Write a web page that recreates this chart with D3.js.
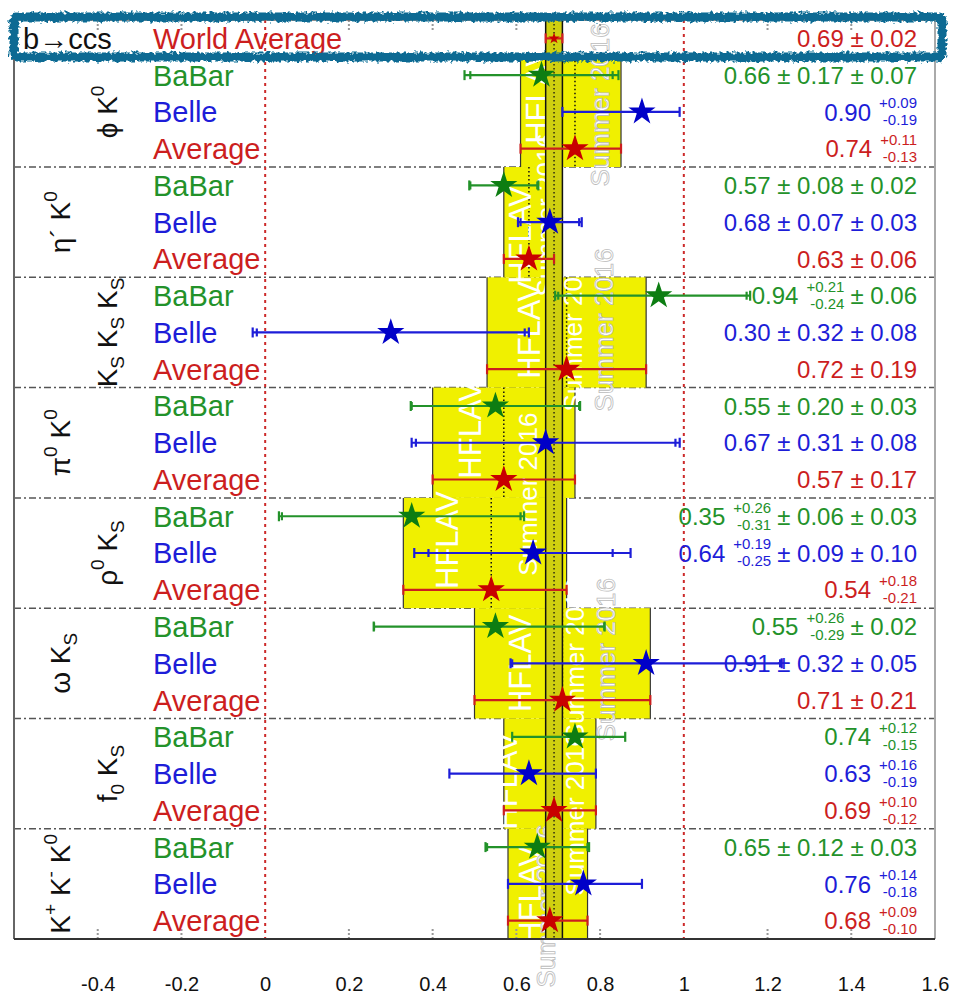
<!DOCTYPE html>
<html>
<head>
<meta charset="utf-8">
<script src="https://cdn.jsdelivr.net/npm/d3@7"></script>
<style>
  body { margin: 0; background: #fff; }
  svg { display: block; font-family: "Liberation Sans", Arial, Helvetica, sans-serif; }
</style>
</head>
<body>
<div id="chart"></div>
<script>
// decay modes, top to bottom (^{} = superscript, _{} = subscript)
const categories = ["ϕ K^{0}", "η´ K^{0}", "K_{S} K_{S} K_{S}", "π^{0} K^{0}",
                    "ρ^{0} K_{S}", "ω K_{S}", "f_{0} K_{S}", "K^{+} K^{-} K^{0}"];
const experiments = ["BaBar", "Belle", "Average"];

// BaBar: value, stat +/-, extra systematics
const babarVal   = [0.66, 0.57, 0.94, 0.55, 0.35, 0.55, 0.74, 0.65];
const babarStatP = [0.17, 0.08, 0.21, 0.20, 0.26, 0.26, 0.12, 0.12];
const babarStatM = [0.17, 0.08, 0.24, 0.20, 0.31, 0.29, 0.15, 0.12];
const babarSyst  = [[0.07], [0.02], [0.06], [0.03], [0.06, 0.03], [0.02], [], [0.03]];

// Belle
const belleVal   = [0.90, 0.68, 0.30, 0.67, 0.64, 0.91, 0.63, 0.76];
const belleStatP = [0.09, 0.07, 0.32, 0.31, 0.19, 0.32, 0.16, 0.14];
const belleStatM = [0.19, 0.07, 0.32, 0.31, 0.25, 0.32, 0.19, 0.18];
const belleSyst  = [[], [0.03], [0.08], [0.08], [0.09, 0.10], [0.05], [], []];

// HFLAV averages
const avgVal  = [0.74, 0.63, 0.72, 0.57, 0.54, 0.71, 0.69, 0.68];
const avgErrP = [0.11, 0.06, 0.19, 0.17, 0.18, 0.21, 0.10, 0.09];
const avgErrM = [0.13, 0.06, 0.19, 0.17, 0.21, 0.21, 0.12, 0.10];

// b -> ccs world average
const worldVal = 0.69, worldErr = 0.02;

const xTicks = [-0.4, -0.2, 0, 0.2, 0.4, 0.6, 0.8, 1, 1.2, 1.4, 1.6];

const width = 954, height = 997;
const nRows = 1 + 3 * categories.length;

const x = d3.scaleLinear().domain([-0.6, 1.6]).range([14, 935]);
const y = d3.scaleLinear().domain([0, nRows]).range([20, 939]); // in row units
const yc = r => y(r + 0.5);

const textCol = { BaBar: "#23922a", Belle: "#1d1dd8", Average: "#cc1e1e" };
const markCol = { BaBar: "#0d7d12", Belle: "#0000c8", Average: "#c80000" };

// flatten into rows
let rows = [];
categories.forEach((c, i) => {
  rows.push({ cat: i, exp: "BaBar", row: 1 + 3 * i, val: babarVal[i], sp: babarStatP[i], sm: babarStatM[i], syst: babarSyst[i] });
  rows.push({ cat: i, exp: "Belle", row: 2 + 3 * i, val: belleVal[i], sp: belleStatP[i], sm: belleStatM[i], syst: belleSyst[i] });
  rows.push({ cat: i, exp: "Average", row: 3 + 3 * i, val: avgVal[i], sp: avgErrP[i], sm: avgErrM[i], syst: [] });
});
for (let d of rows) {
  const s2 = d3.sum(d.syst, s => s * s);
  d.tp = Math.sqrt(d.sp * d.sp + s2); // total errors
  d.tm = Math.sqrt(d.sm * d.sm + s2);
}

const svg = d3.select("#chart").append("svg")
  .attr("width", width)
  .attr("height", height)
  .attr("viewBox", [0, 0, width, height]);

const defs = svg.append("defs");
const rough = defs.append("filter").attr("id", "rough")
  .attr("x", "-5%").attr("y", "-50%").attr("width", "110%").attr("height", "200%");
rough.append("feTurbulence").attr("type", "fractalNoise").attr("baseFrequency", 0.3)
  .attr("numOctaves", 2).attr("result", "n");
rough.append("feDisplacementMap").attr("in", "SourceGraphic").attr("in2", "n")
  .attr("scale", 7).attr("xChannelSelector", "R").attr("yChannelSelector", "G");

// section separators (dash-dot)
svg.append("g")
  .selectAll("line")
  .data(d3.range(1, categories.length))
  .join("line")
  .attr("x1", x(-0.6)).attr("x2", x(1.6))
  .attr("y1", i => y(1 + 3 * i)).attr("y2", i => y(1 + 3 * i))
  .attr("stroke", "#555").attr("stroke-width", 1.5)
  .attr("stroke-dasharray", "7,3,2,3");

// yellow average boxes
const boxes = svg.append("g");
boxes.selectAll("rect")
  .data(categories.map((c, i) => i))
  .join("rect")
  .attr("x", i => x(avgVal[i] - avgErrM[i]))
  .attr("width", i => x(avgVal[i] + avgErrP[i]) - x(avgVal[i] - avgErrM[i]))
  .attr("y", i => y(1 + 3 * i))
  .attr("height", y(3) - y(0))
  .attr("fill", "#f0f000");
boxes.selectAll("line.edge")
  .data(categories.flatMap((c, i) => [[i, avgVal[i] - avgErrM[i]], [i, avgVal[i] + avgErrP[i]]]))
  .join("line")
  .attr("class", "edge")
  .attr("x1", d => x(d[1])).attr("x2", d => x(d[1]))
  .attr("y1", d => y(1 + 3 * d[0])).attr("y2", d => y(4 + 3 * d[0]))
  .attr("stroke", "#333").attr("stroke-width", 1.2);
boxes.selectAll("line.mid")
  .data(categories.map((c, i) => i))
  .join("line")
  .attr("class", "mid")
  .attr("x1", i => x(avgVal[i])).attr("x2", i => x(avgVal[i]))
  .attr("y1", i => y(1 + 3 * i)).attr("y2", i => y(4 + 3 * i))
  .attr("stroke", "#111").attr("stroke-width", 1.5)
  .attr("stroke-dasharray", "1.5,2.5");

// watermark (value, row, text, outlined)
const marks = [
  [0.65, 2.04, "HFLAV", false], [0.80, 2.31, "Summer 2016", true],
  [0.61, 5.85, "HFLAV", false], [0.67, 5.3, "Summer 2016", false],
  [0.63, 8.43, "HFLAV", false], [0.735, 8.43, "Summer 2016", false], [0.81, 8.43, "Summer 2016", true],
  [0.49, 11.15, "HFLAV", false], [0.435, 14.15, "HFLAV", false], [0.627, 12.9, "Summer 2016", false],
  [0.61, 17.5, "HFLAV", false], [0.74, 17.4, "Summer 2016", false], [0.813, 17.4, "Summer 2016", true],
  [0.575, 20.7, "HFLAV", false], [0.74, 21.6, "Summer 2016", false],
  [0.634, 23.8, "HFLAV", false], [0.67, 24.1, "Summer 2016", true]
];
svg.append("g")
  .selectAll("text")
  .data(marks)
  .join("text")
  .attr("transform", d => `translate(${x(d[0])},${y(d[1])}) rotate(-90)`)
  .attr("text-anchor", "middle")
  .attr("dy", "0.35em")
  .attr("font-size", d => d[2] === "HFLAV" ? 31 : 26)
  .attr("fill", "#fff")
  .attr("stroke", d => d[3] ? "#bbb" : "none")
  .attr("stroke-width", 0.8)
  .text(d => d[2]);

// world average band
const band = svg.append("g");
band.append("rect")
  .attr("x", x(worldVal - worldErr))
  .attr("width", x(worldVal + worldErr) - x(worldVal - worldErr))
  .attr("y", y(0)).attr("height", y(nRows) - y(0))
  .attr("fill", "#d0d010");
band.selectAll("line")
  .data([worldVal - worldErr, worldVal + worldErr])
  .join("line")
  .attr("x1", d => x(d)).attr("x2", d => x(d))
  .attr("y1", y(0)).attr("y2", y(nRows))
  .attr("stroke", "#111").attr("stroke-width", 1.5);
band.append("line")
  .attr("x1", x(worldVal)).attr("x2", x(worldVal))
  .attr("y1", y(0)).attr("y2", y(nRows))
  .attr("stroke", "#111").attr("stroke-width", 1.3)
  .attr("stroke-dasharray", "1.5,2.5");

// red dotted lines at 0 and 1
svg.append("g")
  .selectAll("line")
  .data([0, 1])
  .join("line")
  .attr("x1", d => x(d)).attr("x2", d => x(d))
  .attr("y1", y(0)).attr("y2", y(nRows))
  .attr("stroke", "#cc2a2a").attr("stroke-width", 2)
  .attr("stroke-dasharray", "3,4");

// dotted tick marks top and bottom
const tk = svg.append("g").attr("stroke", "#999").attr("stroke-width", 2).attr("stroke-dasharray", "2,2");
for (let t of xTicks.filter(t => t !== 0 && t !== 1 && t < 1.6)) {
  tk.append("line").attr("x1", x(t)).attr("x2", x(t)).attr("y1", y(0)).attr("y2", y(0) + 12);
  tk.append("line").attr("x1", x(t)).attr("x2", x(t)).attr("y1", y(nRows)).attr("y2", y(nRows) - 12);
}

// frame
svg.append("line").attr("x1", x(-0.6)).attr("x2", x(-0.6)).attr("y1", y(0)).attr("y2", y(nRows))
  .attr("stroke", "#666").attr("stroke-width", 2);
svg.append("line").attr("x1", x(1.6)).attr("x2", x(1.6)).attr("y1", y(0)).attr("y2", y(nRows))
  .attr("stroke", "#aaa").attr("stroke-width", 2);
svg.append("line").attr("x1", x(-0.6)).attr("x2", x(1.6)).attr("y1", y(nRows)).attr("y2", y(nRows))
  .attr("stroke", "#333").attr("stroke-width", 2);
svg.append("line").attr("x1", x(-0.6)).attr("x2", x(1.6)).attr("y1", y(0)).attr("y2", y(0))
  .attr("stroke", "#666").attr("stroke-width", 1.5);

// error bars
const eb = svg.append("g");
const bar = eb.selectAll("g")
  .data(rows)
  .join("g")
  .attr("stroke", d => textCol[d.exp])
  .attr("stroke-width", 2.2);
bar.append("line")
  .attr("x1", d => x(d.val - d.tm)).attr("x2", d => x(d.val + d.tp))
  .attr("y1", d => yc(d.row)).attr("y2", d => yc(d.row));
bar.selectAll("line.cap")
  .data(d => [d.val - d.tm, d.val + d.tp].map(v => ({ v, r: d.row })))
  .join("line")
  .attr("class", "cap")
  .attr("x1", c => x(c.v)).attr("x2", c => x(c.v))
  .attr("y1", c => yc(c.r) - 5).attr("y2", c => yc(c.r) + 5);
bar.selectAll("line.stat")
  .data(d => d.syst.length ? [d.val - d.sm, d.val + d.sp].map(v => ({ v, r: d.row })) : [])
  .join("line")
  .attr("class", "stat")
  .attr("x1", c => x(c.v)).attr("x2", c => x(c.v))
  .attr("y1", c => yc(c.r) - 4).attr("y2", c => yc(c.r) + 4);

// star markers
const star = d3.symbol(d3.symbolStar, 230);
eb.selectAll("path")
  .data(rows)
  .join("path")
  .attr("d", star)
  .attr("transform", d => `translate(${x(d.val)},${yc(d.row)})`)
  .attr("fill", d => markCol[d.exp]);

// world average point
const wa = svg.append("g").attr("stroke", "#d42020").attr("stroke-width", 2.2);
wa.append("line").attr("x1", x(worldVal - worldErr)).attr("x2", x(worldVal + worldErr))
  .attr("y1", yc(0)).attr("y2", yc(0));
wa.selectAll("line.cap").data([worldVal - worldErr, worldVal + worldErr]).join("line")
  .attr("class", "cap")
  .attr("x1", d => x(d)).attr("x2", d => x(d))
  .attr("y1", yc(0) - 5).attr("y2", yc(0) + 5);
svg.append("path").attr("d", d3.symbol(d3.symbolStar, 40))
  .attr("transform", `translate(${x(worldVal)},${yc(0)})`).attr("fill", "#c80000");

// left labels
const labelX = 153, valueX = 917, labelSize = 29;
svg.append("text").attr("x", 23).attr("y", yc(0)).attr("dy", "0.36em")
  .attr("font-size", labelSize).attr("fill", "#111").text("b→ccs");
svg.append("text").attr("x", labelX).attr("y", yc(0)).attr("dy", "0.36em")
  .attr("font-size", labelSize).attr("fill", textCol.Average).text("World Average");
svg.append("g")
  .selectAll("text")
  .data(rows)
  .join("text")
  .attr("x", labelX).attr("y", d => yc(d.row)).attr("dy", "0.36em")
  .attr("font-size", labelSize)
  .attr("fill", d => textCol[d.exp])
  .text(d => d.exp);

// rotated category names with sub/superscripts
function richText(sel, str, size) {
  const parts = str.split(/(\^\{[^}]*\}|_\{[^}]*\})/).filter(s => s.length);
  let shift = 0;
  for (let p of parts) {
    let s = 0, txt = p, fs = size;
    if (p.startsWith("^{")) { s = -0.45 * size; txt = p.slice(2, -1); fs = size * 0.68; }
    else if (p.startsWith("_{")) { s = 0.25 * size; txt = p.slice(2, -1); fs = size * 0.68; }
    sel.append("tspan").attr("dy", s - shift).attr("font-size", fs).text(txt);
    shift = s;
  }
}
categories.forEach((c, i) => {
  const t = svg.append("text")
    .attr("transform", `translate(${i % 2 === 0 ? 117 : 70},${y(2.5 + 3 * i)}) rotate(-90)`)
    .attr("text-anchor", "middle")
    .attr("font-size", 28)
    .attr("fill", "#111");
  richText(t, c, 28);
});

// right hand value labels
const f2 = v => v.toFixed(2);
function valueLabel(d, r, color) {
  const g = svg.append("g").attr("fill", color);
  const yy = yc(r);
  if (d.sp === d.sm) {
    const s = f2(d.val) + " ± " + f2(d.sp) + d.syst.map(v => " ± " + f2(v)).join("");
    g.append("text").attr("x", valueX).attr("y", yy).attr("dy", "0.36em")
      .attr("text-anchor", "end").attr("font-size", 24).text(s);
    return;
  }
  let xr = valueX;
  if (d.syst.length) {
    const tail = g.append("text").attr("x", xr).attr("y", yy).attr("dy", "0.36em")
      .attr("text-anchor", "end").attr("font-size", 24)
      .text(d.syst.map(v => " ± " + f2(v)).join("").trim());
    xr -= tail.node().getComputedTextLength() + 6;
  }
  const up = g.append("text").attr("x", xr).attr("y", yy - 9).attr("dy", "0.36em")
    .attr("text-anchor", "end").attr("font-size", 15).text("+" + f2(d.sp));
  const dn = g.append("text").attr("x", xr).attr("y", yy + 8).attr("dy", "0.36em")
    .attr("text-anchor", "end").attr("font-size", 15).text("-" + f2(d.sm));
  xr -= Math.max(up.node().getComputedTextLength(), dn.node().getComputedTextLength()) + 8;
  g.append("text").attr("x", xr).attr("y", yy).attr("dy", "0.36em")
    .attr("text-anchor", "end").attr("font-size", 24).text(f2(d.val));
}
valueLabel({ val: worldVal, sp: worldErr, sm: worldErr, syst: [] }, 0, textCol.Average);
for (let d of rows) valueLabel(d, d.row, textCol[d.exp]);

// x axis labels
svg.append("g")
  .attr("transform", `translate(0,${y(nRows)})`)
  .call(d3.axisBottom(x).tickValues(xTicks).tickSize(0).tickPadding(38).tickFormat(d => String(d)))
  .call(g => g.select(".domain").remove())
  .call(g => g.selectAll("text")
    .attr("font-size", 20)
    .attr("font-family", "Liberation Sans, Arial, sans-serif")
    .attr("fill", "#111"));

// highlight around the world average row
svg.append("rect")
  .attr("x", 14).attr("y", 17)
  .attr("width", 928).attr("height", 40)
  .attr("rx", 3)
  .attr("fill", "none")
  .attr("stroke", "#0a6a93")
  .attr("stroke-width", 9)
  .attr("filter", "url(#rough)");
</script>
</body>
</html>
